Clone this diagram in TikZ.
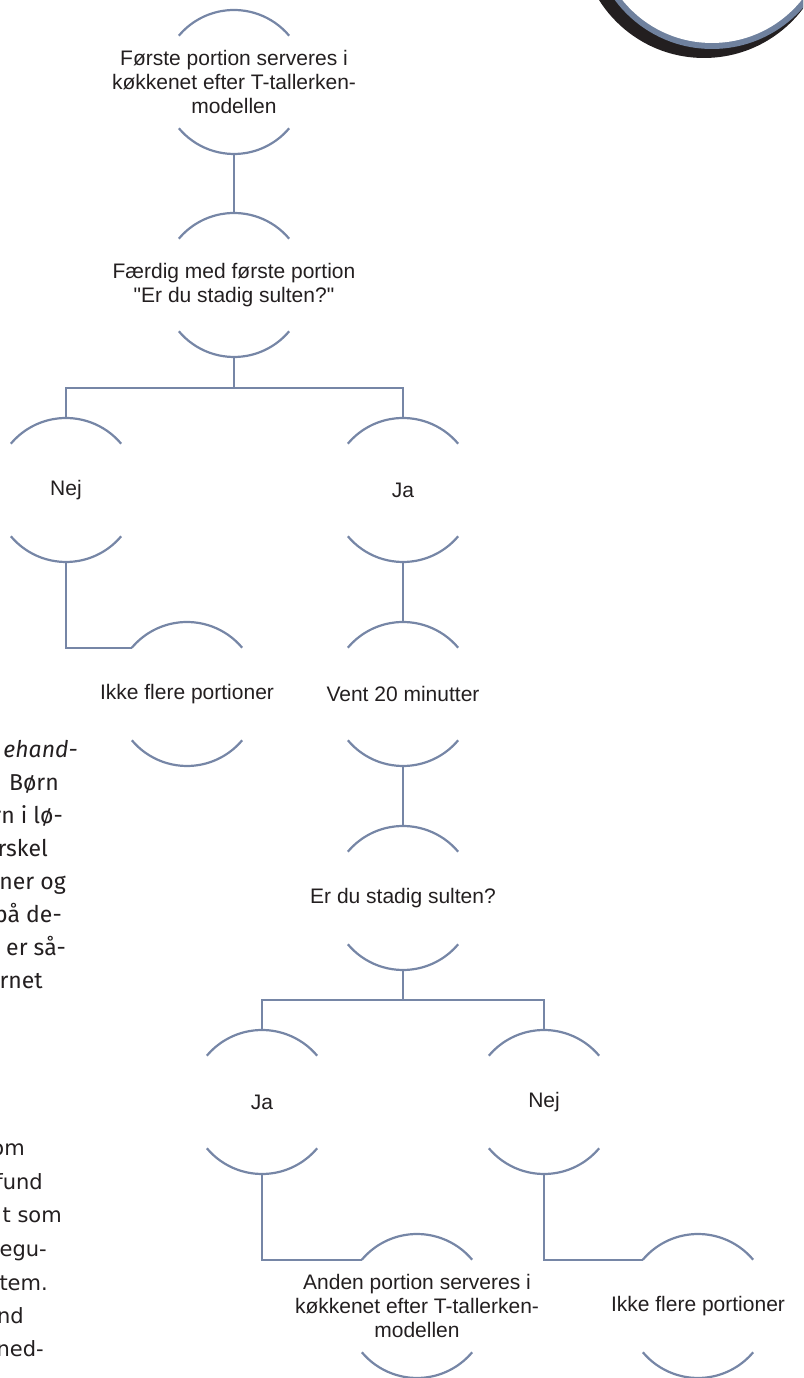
\documentclass[tikz,border=0pt]{standalone}
\usepackage{fontspec}
\setmainfont{Liberation Sans}
\newfontfamily\rawfont{Liberation Sans}
\newfontfamily\brodfont{Fira Sans}
\newfontfamily\dejafont{DejaVu Sans}
\definecolor{colLine}{RGB}{118,134,166}
\definecolor{colRing}{RGB}{111,129,158}
\definecolor{colShadow}{RGB}{35,31,32}
\definecolor{colText}{RGB}{35,31,32}

\begin{document}
\begin{tikzpicture}[x=1pt, y=1pt,
    every node/.style={text=colText},
    portion/.style={circle, minimum size=144pt, inner sep=0pt, outer sep=0pt},
    tekst/.style={align=center, font=\fontsize{21}{24}\selectfont},
    linje/.style={draw=colLine, line width=2.2pt},
    brodA/.style={font=\brodfont\fontsize{23}{33}\selectfont, anchor=mid east, inner sep=0pt},
    brodB/.style={font=\dejafont\fontsize{21}{33}\selectfont, anchor=mid east, inner sep=0pt}]
    \useasboundingbox (0,0) rectangle (803,1378);
    \clip (0,0) rectangle (803,1378);

    % ring in the corner
    \fill[colShadow] (704,1444) circle[radius=124pt];
    \fill[colRing] (712,1450) circle[radius=121pt];
    \fill[white] (712,1450) circle[radius=115pt];

    % steps
    \node[portion, label={[tekst]center:Første portion serveres i\\køkkenet efter T-tallerken-\\modellen}] (forste) at (234,1296) {};
    \node[portion, label={[tekst]center:Færdig med første portion\\{\rawfont"Er du stadig sulten?"}}] (faerdig) at (234,1093) {};
    \node[portion, label={[tekst]center:Nej}] (nej1) at (66,888) {};
    \node[portion, label={[tekst]center:Ja}] (ja1) at (403,888) {};
    \node[portion, label={[tekst]center:Ikke flere portioner}] (ikke1) at (187,684) {};
    \node[portion, label={[tekst]center:Vent 20 minutter}] (vent) at (403,684) {};
    \node[portion, label={[tekst]center:Er du stadig sulten?}] (sulten) at (403,480) {};
    \node[portion, label={[tekst]center:Ja}] (ja2) at (262,276) {};
    \node[portion, label={[tekst]center:Nej}] (nej2) at (544,276) {};
    \node[portion, label={[tekst]center:Anden portion serveres i\\køkkenet efter T-tallerken-\\modellen}] (anden) at (417,72) {};
    \node[portion, label={[tekst]center:Ikke flere portioner}] (ikke2) at (698,72) {};

    % arcs above and below each step
    \foreach \n in {forste,faerdig,nej1,ja1,ikke1,vent,sulten,ja2,nej2,anden,ikke2} {
        \draw[linje] (\n.40) arc[start angle=40, end angle=140, radius=72pt];
        \draw[linje] (\n.220) arc[start angle=220, end angle=320, radius=72pt];
    }

    % connectors
    \draw[linje] (forste.south) -- (faerdig.north);
    \draw[linje] (faerdig.south) -- ++(0,-31) -| (nej1.north);
    \draw[linje] (faerdig.south) -- ++(0,-31) -| (ja1.north);
    \draw[linje] (nej1.south) |- (ikke1.140);
    \draw[linje] (ja1.south) -- (vent.north);
    \draw[linje] (vent.south) -- (sulten.north);
    \draw[linje] (sulten.south) -- ++(0,-30) -| (ja2.north);
    \draw[linje] (sulten.south) -- ++(0,-30) -| (nej2.north);
    \draw[linje] (ja2.south) |- (anden.140);
    \draw[linje] (nej2.south) |- (ikke2.140);

    % cut-off body text at the left edge
    \foreach \x/\y/\t [count=\i] in {78/755/{\itshape ehand-}, 59/788/{Børn}, 63/821/{rn i lø-},
        48/854/{rskel}, 66/887/{ner og}, 62/920/{på de-}, 66/953/{er så-}, 43/986/{rnet}} {
        \node[brodA] (brodA\i) at (\x,1378-\y) {\t};
    }
    \foreach \x/\y/\t [count=\i] in {25/1153/{om}, 43/1187/{fund}, 62/1220/{t som},
        47/1254/{egu-}, 48/1288/{tem.}, 24/1321/{nd}, 44/1354/{ned-}} {
        \node[brodB] (brodB\i) at (\x,1378-\y) {\t};
    }
\end{tikzpicture}
\end{document}
